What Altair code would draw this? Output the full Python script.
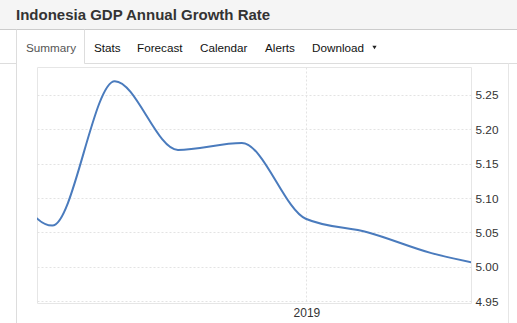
import altair as alt
import pandas as pd

# Data (quarterly, annual growth %)
dates = ["2017-09-30", "2017-12-31", "2018-03-31", "2018-06-30", "2018-09-30",
         "2018-12-31", "2019-03-31", "2019-06-30", "2019-09-30"]
values = [5.19, 5.06, 5.27, 5.17, 5.18, 5.07, 5.05, 5.02, 5.00]
y_ticks = [4.95, 5.00, 5.05, 5.10, 5.15, 5.20, 5.25]
title_text = "Indonesia GDP Annual Growth Rate"
tabs = ["Summary", "Stats", "Forecast", "Calendar", "Alerts", "Download"]

df = pd.DataFrame({"date": dates, "value": values})
one = pd.DataFrame({"k": [0]})

FONT = "Liberation Sans"
W, H = 434, 236

line = alt.Chart(df).mark_line(
    interpolate="monotone", color="#4a7bbd", strokeWidth=2, clip=True
).encode(
    x=alt.X("date:T",
            scale=alt.Scale(type="utc",
                            domain=[alt.DateTime(year=2017, month=12, date=9, utc=True),
                                    alt.DateTime(year=2019, month=8, date=26, utc=True)]),
            axis=alt.Axis(title=None, values=[alt.DateTime(year=2019, month=1, date=1, utc=True)],
                          format="%Y", ticks=False, domain=False, labelPadding=4,
                          labelFont=FONT, labelFontSize=12, labelColor="#333333",
                          grid=True, gridDash=[2, 2], gridColor="#e3e3e3")),
    y=alt.Y("value:Q",
            scale=alt.Scale(domain=[4.9475, 5.2906], nice=False, zero=False),
            axis=alt.Axis(title=None, orient="right", values=y_ticks, format=".2f",
                          ticks=False, domain=False, labelPadding=4,
                          labelFont=FONT, labelFontSize=11.8, labelColor="#333333",
                          grid=True, gridDash=[2, 2], gridColor="#e3e3e3")),
)

def rect(x, x2, y, y2, color):
    return alt.Chart(one).mark_rect(color=color).encode(
        x=alt.value(x), x2=alt.value(x2), y=alt.value(y), y2=alt.value(y2))

def rule(x, x2, y, y2, color):
    return alt.Chart(one).mark_rule(color=color, strokeWidth=1).encode(
        x=alt.value(x), x2=alt.value(x2), y=alt.value(y), y2=alt.value(y2))

def text(t, x, y, size, color, weight="normal"):
    return alt.Chart(one).mark_text(
        text=t, align="left", baseline="alphabetic", font=FONT,
        fontSize=size, fontWeight=weight, color=color
    ).encode(x=alt.value(x), y=alt.value(y))

header = rect(-37, 480, -67, -38, "#f5f5f5")
header_border = rule(-37, 480, -37.5, -37.5, "#cccccc")
tab_line_left = rule(-37, -20.5, -3.5, -3.5, "#dddddd")
tab_line_right = rule(47.5, 480, -3.5, -3.5, "#dddddd")
tab_left = rule(-20.5, -20.5, -37.5, 256, "#dddddd")
tab_right = rule(47.5, 47.5, -37.5, -3.5, "#dddddd")
panel_right = rule(471.5, 471.5, -3.5, 256, "#e6e6e6")

title = text(title_text, -21, -47, 15, "#333333", "bold")
tab_x = [-11, 57, 100, 163, 228, 275]
tab_layers = [text(t, x, -15.5, 11.7, "#555555" if i == 0 else "#111111")
              for i, (t, x) in enumerate(zip(tabs, tab_x))]
caret = alt.Chart(one).mark_point(shape="triangle-down", filled=True, size=18,
                                  color="#222222", opacity=1).encode(
    x=alt.value(337.5), y=alt.value(-19.5))

chart = alt.layer(
    header, header_border, tab_line_left, tab_line_right, tab_left, tab_right,
    panel_right, title, *tab_layers, caret, line
).properties(
    width=W, height=H,
    autosize=alt.AutoSizeParams(type="none"),
    padding={"left": 37, "top": 67, "right": 46, "bottom": 20},
    background="white",
).configure_view(stroke="#e6e6e6", strokeWidth=1)

chart.save("out.html", embed_options={"renderer": "svg", "actions": False})
